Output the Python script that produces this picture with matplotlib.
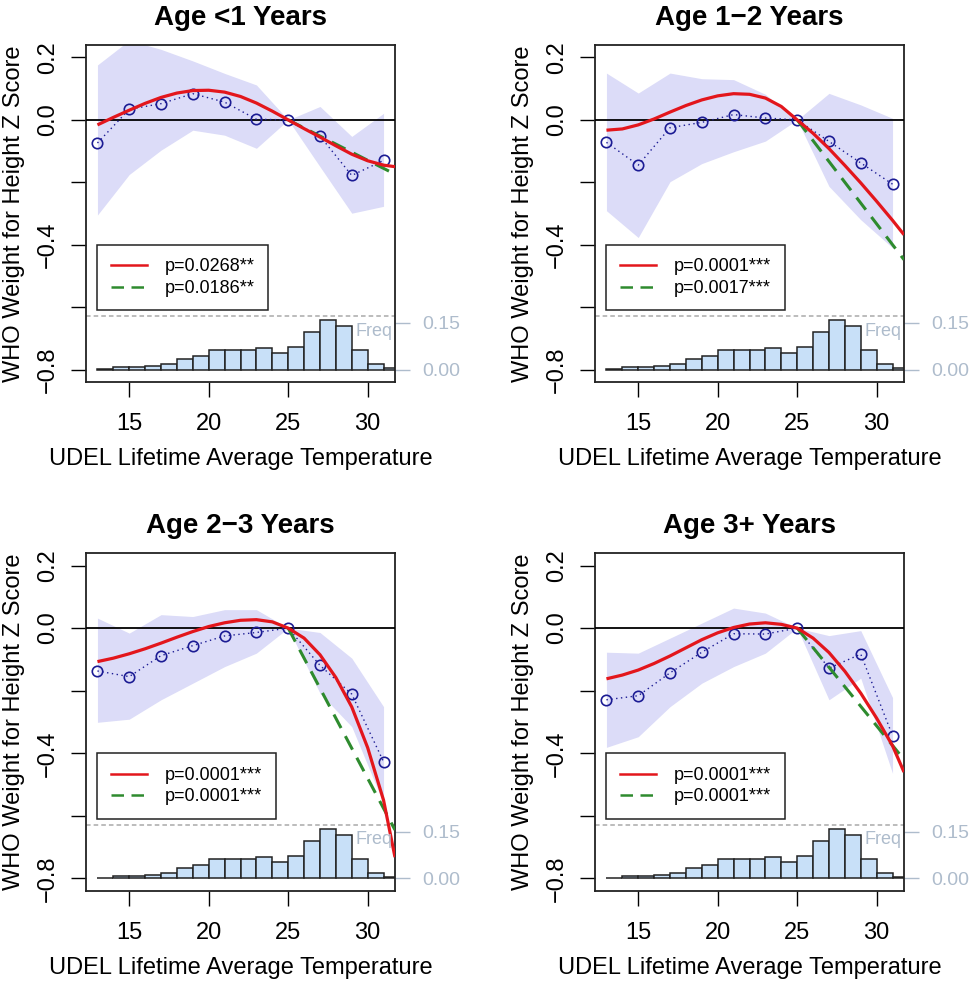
import numpy as np
import matplotlib
matplotlib.use('Agg')
import matplotlib.pyplot as plt
from matplotlib.lines import Line2D

plt.rcParams['font.family'] = ['Liberation Sans', 'DejaVu Sans']

# ---------------- data ----------------
titles = ['Age <1 Years', 'Age 1\u22122 Years', 'Age 2\u22123 Years', 'Age 3+ Years']
p_red = ['p=0.0268**', 'p=0.0001***', 'p=0.0001***', 'p=0.0001***']
p_green = ['p=0.0186**', 'p=0.0017***', 'p=0.0001***', 'p=0.0001***']

pt_x = [13, 15, 17, 19, 21, 23, 25, 27, 29, 31]
pts = [
    [-0.074, 0.034, 0.052, 0.084, 0.057, 0.002, 0.0, -0.052, -0.178, -0.130],
    [-0.072, -0.145, -0.025, -0.008, 0.017, 0.006, 0.0, -0.069, -0.138, -0.206],
    [-0.137, -0.155, -0.088, -0.056, -0.025, -0.014, 0.0, -0.119, -0.211, -0.427],
    [-0.229, -0.216, -0.143, -0.077, -0.018, -0.019, 0.0, -0.128, -0.083, -0.344],
]
band_hi = [
    [0.176, 0.255, 0.226, 0.189, 0.149, 0.112, 0.0, 0.043, -0.053, 0.021],
    [0.150, 0.086, 0.150, 0.132, 0.129, 0.082, 0.0, 0.085, 0.048, 0.005],
    [0.032, -0.016, 0.043, 0.037, 0.059, 0.059, 0.0, -0.014, -0.096, -0.251],
    [-0.077, -0.080, -0.032, 0.016, 0.064, 0.048, 0.0, -0.024, -0.008, -0.222],
]
band_lo = [
    [-0.305, -0.175, -0.097, -0.033, -0.049, -0.091, 0.0, -0.150, -0.299, -0.277],
    [-0.291, -0.377, -0.198, -0.140, -0.102, -0.068, 0.0, -0.213, -0.320, -0.410],
    [-0.301, -0.291, -0.229, -0.176, -0.123, -0.080, 0.0, -0.208, -0.315, -0.560],
    [-0.381, -0.347, -0.251, -0.176, -0.123, -0.080, 0.0, -0.229, -0.160, -0.464],
]

curve_x = [13, 14, 15, 16, 17, 18, 19, 20, 21, 22, 23, 24, 25, 26, 27, 28, 29, 30, 31, 31.72]
red_curves = [
    [-0.016, 0.008, 0.031, 0.053, 0.072, 0.086, 0.094, 0.095, 0.089, 0.075, 0.054, 0.028, 0.0,
     -0.028, -0.055, -0.083, -0.110, -0.131, -0.145, -0.150],
    [-0.033, -0.029, -0.016, 0.003, 0.025, 0.046, 0.064, 0.077, 0.084, 0.082, 0.070, 0.043, 0.0,
     -0.043, -0.092, -0.146, -0.202, -0.261, -0.322, -0.368],
    [-0.107, -0.096, -0.082, -0.066, -0.048, -0.029, -0.011, 0.005, 0.017, 0.025, 0.027, 0.020, 0.0,
     -0.032, -0.085, -0.158, -0.252, -0.382, -0.550, -0.732],
    [-0.162, -0.150, -0.134, -0.113, -0.089, -0.063, -0.037, -0.015, 0.002, 0.013, 0.017, 0.012, 0.0,
     -0.032, -0.078, -0.138, -0.208, -0.288, -0.376, -0.460],
]
green_x = [25, 31.72]
green_lines = [
    [0.0, -0.174],
    [0.0, -0.448],
    [0.0, -0.645],
    [0.0, -0.420],
]

hist_edges = list(range(13, 33))
hist_freq = [0.002, 0.009, 0.009, 0.011, 0.018, 0.033, 0.044, 0.062, 0.062, 0.062,
             0.068, 0.052, 0.072, 0.119, 0.159, 0.138, 0.062, 0.018, 0.004]
hist_base = -0.8
hist_scale = 1.0
hist_top_line = -0.63

xticks = [15, 20, 25, 30]
yticks = [-0.8, -0.6, -0.4, -0.2, 0.0, 0.2]
ytick_labels = ['\u22120.8', '', '\u22120.4', '', '0.0', '0.2']
freq_ticks = [0.0, 0.15]
freq_labels = ['0.00', '0.15']

# ---------------- style ----------------
W, H = 969, 982
fig = plt.figure(figsize=(W / 100, H / 100), dpi=100)

boxes = [(86, 45, 395, 382), (595, 45, 904, 382), (86, 553, 395, 891), (595, 553, 904, 891)]
RED = '#e3161c'
GREEN = '#2e8b2e'
BLUE = '#1c1c94'
BAND = '#dcdcf8'
BAR = '#c8e0f8'
LIGHT = '#aebccc'

for i in range(4):
    x0, y0, x1, y1 = boxes[i]
    ax = fig.add_axes([x0 / W, 1 - y1 / H, (x1 - x0) / W, (y1 - y0) / H])
    ax.set_xlim(12.28, 31.72)
    ax.set_ylim(-0.84, 0.24)

    ax.fill_between(pt_x, band_lo[i], band_hi[i], color=BAND, lw=0, zorder=1)

    ax.bar(hist_edges[:-1], [f * hist_scale for f in hist_freq], width=1.0, bottom=hist_base,
           align='edge', color=BAR, edgecolor='#222222', linewidth=1.1, zorder=2)
    ax.axhline(hist_top_line, color='#aaaaaa', lw=1.1, ls=(0, (3, 2)), zorder=2)
    ax.axhline(0, color='black', lw=1.3, zorder=3)

    ax.plot(pt_x, pts[i], ls=(0, (1, 2.5)), color=BLUE, lw=1.0, marker='o', ms=7.5,
            mfc='none', mec=BLUE, mew=1.2, zorder=4)
    ax.plot(curve_x, red_curves[i], color=RED, lw=2.3, zorder=6, solid_capstyle='butt',
            solid_joinstyle='round')
    ax.plot(green_x, green_lines[i], color=GREEN, lw=2.2, ls=(0, (5, 3)), zorder=5)

    ax.text(31.55, hist_base + 0.123 * hist_scale, 'Freq', color=LIGHT, fontsize=13,
            ha='right', va='center', zorder=7)

    ax.set_xticks(xticks)
    ax.set_xticklabels([str(t) for t in xticks])
    ax.set_yticks(yticks)
    ax.set_yticklabels(ytick_labels)
    ax.tick_params(axis='both', direction='out', length=10.5, width=1.0, labelsize=17, color='black')
    ax.tick_params(axis='x', pad=12)
    ax.tick_params(axis='y', pad=9, labelrotation=90)
    for lab in ax.get_yticklabels():
        lab.set_va('center')
    for s in ax.spines.values():
        s.set_linewidth(1.3)
        s.set_color('#222222')

    sec = ax.secondary_yaxis('right', functions=(lambda y: (y - hist_base) / hist_scale,
                                                 lambda f: f * hist_scale + hist_base))
    sec.set_yticks(freq_ticks)
    sec.set_yticklabels(freq_labels)
    sec.tick_params(direction='out', length=10.5, width=1.0, color=LIGHT, labelcolor=LIGHT,
                    labelsize=14, pad=9)
    sec.spines['right'].set_visible(False)

    ax.set_title(titles[i], fontsize=20, fontweight='bold', y=1.08, va='center', pad=0)
    ax.set_xlabel('UDEL Lifetime Average Temperature', fontsize=17, va='center')
    ax.xaxis.set_label_coords(0.5, -0.228)
    ax.set_ylabel('WHO Weight for Height Z Score', fontsize=17, va='center')
    ax.yaxis.set_label_coords(-(x0 - 14) / (x1 - x0) if i % 2 == 0 else -(x0 - 523) / (x1 - x0), 0.5)

    handles = [Line2D([], [], color=RED, lw=1.8),
               Line2D([], [], color=GREEN, lw=1.8, ls=(0, (5, 3)))]
    leg = ax.legend(handles, [p_red[i], p_green[i]], loc='upper left',
                    bbox_to_anchor=(0.036, 0.407), fontsize=13, frameon=True, fancybox=False,
                    edgecolor='#222222', framealpha=1, borderpad=0.75, labelspacing=0.25,
                    handlelength=2.0, handletextpad=1.0, borderaxespad=0)
    leg.get_frame().set_linewidth(1.1)
    leg.set_zorder(8)

fig.savefig('out.png', dpi=100)
